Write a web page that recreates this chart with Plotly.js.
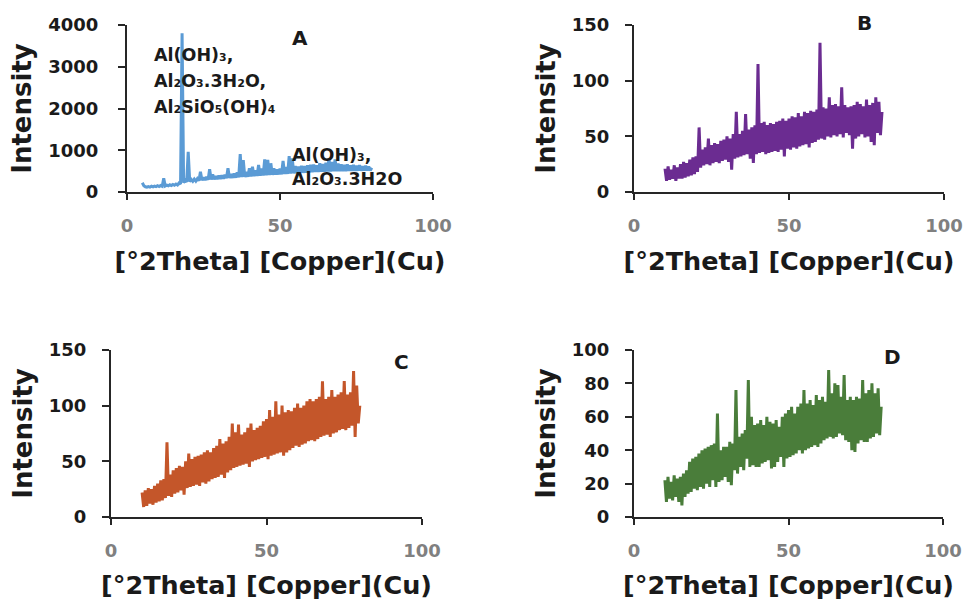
<!DOCTYPE html>
<html>
<head>
<meta charset="utf-8">
<script src="https://cdn.plot.ly/plotly-3.0.1.min.js"></script>
<style>html,body{margin:0;padding:0;background:#fff;}#chart{width:967px;height:600px;}</style>
</head>
<body>
<div id="chart"></div>
<script>
// 2θ scan grids (start, step in degrees)
const thetaStartA = 5;
const thetaStartBCD = 10;
const thetaStep = 0.5;

// Panel A intensities, 5°–80° (pairs per degree)
const intensityA = [
  220,150, 125,115, 130,118, 138,122, 142,128,
  150,132, 155,138, 330,145, 165,150, 172,155,
  180,160, 190,168, 215,190, 3800,220, 280,240,
  965,250, 300,255, 310,262, 320,270, 486,280,
  350,285, 360,290, 543,300, 420,305, 380,310,
  390,315, 400,320, 410,330, 567,335, 430,340,
  440,345, 470,350, 910,355, 766,360, 480,365,
  567,370, 607,380, 520,385, 647,390, 560,395,
  783,400, 766,405, 687,410, 567,415, 540,420,
  560,425, 742,430, 600,435, 862,440, 806,445,
  620,450, 610,455, 630,460, 620,465, 640,470,
  650,475, 660,478, 640,480, 687,485, 670,488,
  700,490, 806,492, 720,495, 780,498, 680,500,
  660,500, 650,502, 660,505, 640,505, 650,508,
  630,510, 640,510, 620,512, 630,515, 610,515,
  580
];

// Panel B intensities, 10°–80°
const intensityB = [
  21,10, 23,11, 20,12, 24,10, 22,12,
  25,12, 27,13, 26,14, 29,15, 31,16,
  32,18, 58,22, 38,24, 40,25, 48,24,
  42,26, 44,27, 43,26, 46,28, 47,29,
  50,27, 48,20, 52,30, 72,31, 52,32,
  55,33, 70,34, 56,30, 58,26, 60,34,
  115,35, 62,36, 63,34, 60,35, 62,36,
  61,37, 63,36, 64,38, 66,32, 64,39,
  66,38, 68,40, 67,39, 71,41, 68,42,
  72,43, 71,40, 73,44, 72,45, 74,47,
  134,48, 76,47, 75,50, 85,49, 78,51,
  79,50, 77,52, 94,49, 78,53, 76,51,
  77,39, 78,48, 81,50, 79,52, 77,49,
  83,50, 78,45, 80,42, 85,53, 81,51,
  72
];

// Panel C intensities, 10°–80°
const intensityC = [
  22,9, 24,10, 26,12, 25,11, 28,13,
  30,14, 33,15, 34,17, 67,19, 38,18,
  42,21, 44,22, 46,24, 45,20, 50,26,
  57,27, 52,28, 54,29, 55,28, 56,31,
  58,30, 60,32, 58,34, 62,35, 64,36,
  70,38, 66,35, 68,40, 72,42, 84,44,
  76,45, 83,46, 74,47, 76,48, 80,45,
  84,50, 78,51, 80,52, 82,53, 86,54,
  88,52, 96,55, 90,56, 104,57, 92,58,
  100,55, 94,58, 96,60, 95,62, 98,64,
  102,63, 98,65, 100,66, 104,68, 106,69,
  104,68, 106,70, 108,72, 122,73, 106,74,
  108,72, 114,75, 108,76, 110,78, 112,79,
  122,78, 110,80, 112,82, 131,72, 118,84,
  100
];

// Panel D intensities, 10°–80°
const intensityD = [
  22,9, 24,11, 21,10, 25,12, 23,9,
  24,7, 26,12, 28,14, 33,15, 35,17,
  36,16, 38,18, 40,17, 41,20, 42,18,
  43,22, 44,18, 62,21, 40,22, 42,24,
  42,21, 45,19, 44,28, 76,26, 48,30,
  50,28, 52,35, 82,30, 60,31, 55,30,
  56,30, 58,32, 55,33, 60,34, 57,29,
  56,30, 58,33, 54,36, 60,30, 62,35,
  64,36, 66,37, 62,38, 66,40, 68,38,
  76,40, 68,41, 70,42, 67,43, 73,42,
  70,44, 72,46, 69,47, 88,48, 74,47,
  80,48, 79,50, 72,49, 85,46, 70,45,
  72,40, 70,39, 72,44, 71,46, 82,45,
  74,45, 76,47, 80,48, 74,50, 77,49,
  66
];

const panelLetters = ['A','B','C','D'];
const yRanges = [[0,4000],[0,150],[0,150],[0,100]];
const yTickSteps = [1000,50,50,20];
const xTickStep = 50;
const xTitleText = '[°2Theta] [Copper](Cu)';
const yTitleText = 'Intensity';
const peakLabelsA = [
  'Al(OH)₃,',
  'Al₂O₃.3H₂O,',
  'Al₂SiO₅(OH)₄',
  'Al(OH)₃,',
  'Al₂O₃.3H2O'
];

const W = 967, H = 600;
const colors = ['#5B9BD5', '#6B2C91', '#C4562A', '#4A7D3A'];
// pixel boxes of each plot area [left, right, top, bottom]
const boxes = [
  [127, 433, 25, 192],
  [634, 944, 25, 192],
  [111, 422, 350, 517],
  [634, 943, 350, 517]
];
const yLabelGap = [16, 12, 12, 12];
const FONT = 'DejaVu Sans';
const axisCol = '#262626';

const series = [intensityA, intensityB, intensityC, intensityD];
const starts = [thetaStartA, thetaStartBCD, thetaStartBCD, thetaStartBCD];

const data = series.map((ys, i) => ({
  type: 'scatter', mode: 'lines',
  x0: starts[i], dx: thetaStep, y: ys,
  xaxis: i === 0 ? 'x' : 'x' + (i + 1),
  yaxis: i === 0 ? 'y' : 'y' + (i + 1),
  line: {color: colors[i], width: 3},
  hoverinfo: 'skip', showlegend: false
}));

const layout = {
  width: W, height: H,
  margin: {l: 0, r: 0, t: 0, b: 0},
  paper_bgcolor: '#fff', plot_bgcolor: '#fff',
  showlegend: false,
  annotations: []
};

boxes.forEach((b, i) => {
  const sfx = i === 0 ? '' : String(i + 1);
  layout['xaxis' + sfx] = {
    domain: [b[0] / W, b[1] / W],
    anchor: 'y' + sfx,
    range: [0, 100], dtick: xTickStep, tick0: 0,
    showgrid: false, zeroline: false,
    showline: true, linecolor: axisCol, linewidth: 2,
    ticks: 'outside', ticklen: 6, tickwidth: 2, tickcolor: axisCol,
    ticklabelstandoff: 10,
    tickfont: {family: FONT, size: 18, color: '#808080', weight: 'bold'},
    title: {text: xTitleText, standoff: 18,
            font: {family: FONT, size: 25.5, color: '#1a1a1a', weight: 'bold'}}
  };
  layout['yaxis' + sfx] = {
    domain: [1 - b[3] / H, 1 - b[2] / H],
    anchor: 'x' + sfx,
    range: yRanges[i], dtick: yTickSteps[i], tick0: 0,
    showgrid: false, zeroline: false,
    showline: true, linecolor: axisCol, linewidth: 2,
    ticks: 'outside', ticklen: 7, tickwidth: 2, tickcolor: axisCol,
    ticklabelstandoff: yLabelGap[i],
    tickfont: {family: FONT, size: 18, color: '#1a1a1a', weight: 'bold'},
    title: {text: yTitleText, standoff: 9,
            font: {family: FONT, size: 26, color: '#1a1a1a', weight: 'bold'}}
  };
});

// panel letters
const letterPos = [[300, 38], [864, 23], [401, 362], [892, 357]];
panelLetters.forEach((t, i) => {
  layout.annotations.push({
    text: t, xref: 'paper', yref: 'paper',
    x: letterPos[i][0] / W, y: 1 - letterPos[i][1] / H,
    xanchor: 'center', yanchor: 'middle', showarrow: false,
    font: {family: FONT, size: 20, color: '#1a1a1a', weight: 'bold'}
  });
});

// phase labels in panel A
const labelPos = [[152, 55], [152, 81], [152, 107], [290, 155], [290, 179]];
peakLabelsA.forEach((t, i) => {
  layout.annotations.push({
    text: t, xref: 'paper', yref: 'paper',
    x: labelPos[i][0] / W, y: 1 - labelPos[i][1] / H,
    xanchor: 'left', yanchor: 'middle', showarrow: false,
    font: {family: FONT, size: 17.5, color: '#1a1a1a', weight: 'bold'}
  });
});

Plotly.newPlot('chart', data, layout, {staticPlot: true, displayModeBar: false});
</script>
</body>
</html>
